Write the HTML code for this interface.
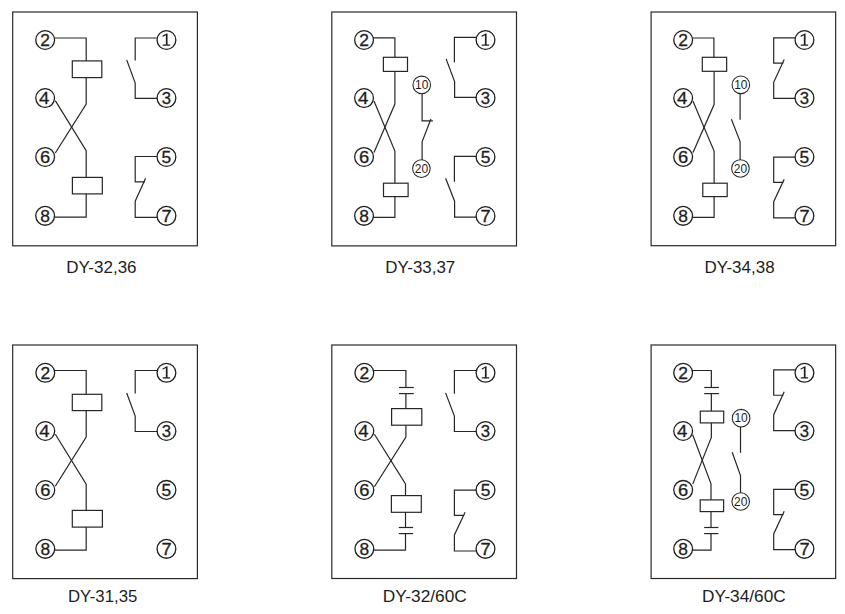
<!DOCTYPE html>
<html><head><meta charset="utf-8"><title>DY relay wiring diagrams</title>
<style>
html,body{margin:0;padding:0;background:#fff;}
body{width:845px;height:614px;overflow:hidden;font-family:"Liberation Sans",sans-serif;}
svg{display:block;}
svg path{fill:none;stroke-linejoin:miter;stroke-linecap:butt;}
svg text{font-family:"Liberation Sans",sans-serif;fill:#1e1e1e;}
svg path.g{fill:#1e1e1e;stroke:none;}
.b{font-size:17.4px;text-anchor:middle;stroke:#1e1e1e;stroke-width:.3px;}
.s{font-size:12.9px;text-anchor:middle;}
.l{font-size:16.6px;}
</style></head>
<body>
<svg width="845" height="614" viewBox="0 0 845 614">
<rect x="0" y="0" width="845" height="614" fill="#fff"/>
<rect x="12.7" y="12" width="184.7" height="233.8" fill="none" stroke="#2a2a2a" stroke-width="1.2"/>
<path d="M54 38L86.2 38L86.2 61" stroke="#262626" stroke-width="1.2"/>
<path d="M86.2 77L86.2 104.1L55.3 153" stroke="#262626" stroke-width="1.2"/>
<path d="M55.3 100.6L86.2 150.7L86.2 178" stroke="#262626" stroke-width="1.2"/>
<path d="M86.2 193L86.2 217.2L54 217.2" stroke="#262626" stroke-width="1.2"/>
<rect x="72.3" y="60.9" width="29.5" height="16.7" fill="#fff" stroke="#262626" stroke-width="1.2"/>
<rect x="72.4" y="177.4" width="29.9" height="16.5" fill="#fff" stroke="#262626" stroke-width="1.2"/>
<circle cx="45.15" cy="40" r="9.4" fill="#fff" stroke="#1e1e1e" stroke-width="1.3"/>
<text transform="translate(45.15 45.85) scale(1.0 1)" class="b">2</text>
<circle cx="45.15" cy="98.05" r="9.4" fill="#fff" stroke="#1e1e1e" stroke-width="1.3"/>
<text transform="translate(44.25 103.9) scale(1.07 1)" class="b">4</text>
<circle cx="45.15" cy="156.95" r="9.4" fill="#fff" stroke="#1e1e1e" stroke-width="1.3"/>
<text transform="translate(45.15 162.8) scale(1.05 1)" class="b">6</text>
<circle cx="45.15" cy="215.85" r="9.4" fill="#fff" stroke="#1e1e1e" stroke-width="1.3"/>
<text transform="translate(45.15 221.7) scale(1.0 1)" class="b">8</text>
<path d="M158 38L135.2 38L135.2 60.5" stroke="#262626" stroke-width="1.2"/>
<path d="M126.7 59.9L135.2 83L135.2 98.4L158 98.4" stroke="#262626" stroke-width="1.2"/>
<path d="M158 156.5L135.2 156.5L135.2 181.9L144.9 181.9" stroke="#262626" stroke-width="1.2"/>
<path d="M145.6 178.2L135.2 201.2L135.2 217.3L158 217.3" stroke="#262626" stroke-width="1.2"/>
<circle cx="166.45" cy="40" r="9.4" fill="#fff" stroke="#1e1e1e" stroke-width="1.3"/>
<path d="M162.65 35.6L166.75 33.5L167.55 33.5L167.55 44.4L170.15 44.4L170.15 45.8L162.75 45.8L162.75 44.4L165.85 44.4L165.85 35.3L162.65 36.9Z" class="g"/>
<circle cx="166.45" cy="98.05" r="9.4" fill="#fff" stroke="#1e1e1e" stroke-width="1.3"/>
<text transform="translate(166.45 103.9) scale(0.96 1)" class="b">3</text>
<circle cx="166.45" cy="156.95" r="9.4" fill="#fff" stroke="#1e1e1e" stroke-width="1.3"/>
<text transform="translate(166.45 162.8) scale(1.0 1)" class="b">5</text>
<circle cx="166.45" cy="215.85" r="9.4" fill="#fff" stroke="#1e1e1e" stroke-width="1.3"/>
<text transform="translate(166.45 221.7) scale(1.05 1)" class="b">7</text>
<text x="66.3" y="272.8" class="l" textLength="70.3" lengthAdjust="spacingAndGlyphs">DY-32,36</text>
<rect x="331.8" y="12" width="184.7" height="233.9" fill="none" stroke="#2a2a2a" stroke-width="1.2"/>
<path d="M373 37.8L394.9 37.8L394.9 58" stroke="#262626" stroke-width="1.2"/>
<path d="M394.9 71L394.9 104.1L374 152.4" stroke="#262626" stroke-width="1.2"/>
<path d="M374 101L394.9 151.1L394.9 184" stroke="#262626" stroke-width="1.2"/>
<path d="M394.9 196L394.9 217.3L373 217.3" stroke="#262626" stroke-width="1.2"/>
<rect x="383.4" y="57.3" width="24.1" height="14.1" fill="#fff" stroke="#262626" stroke-width="1.2"/>
<rect x="383.5" y="183.2" width="24.6" height="13.4" fill="#fff" stroke="#262626" stroke-width="1.2"/>
<circle cx="364.05" cy="40" r="9.4" fill="#fff" stroke="#1e1e1e" stroke-width="1.3"/>
<text transform="translate(364.05 45.85) scale(1.0 1)" class="b">2</text>
<circle cx="364.05" cy="98.05" r="9.4" fill="#fff" stroke="#1e1e1e" stroke-width="1.3"/>
<text transform="translate(363.15 103.9) scale(1.07 1)" class="b">4</text>
<circle cx="364.05" cy="156.95" r="9.4" fill="#fff" stroke="#1e1e1e" stroke-width="1.3"/>
<text transform="translate(364.05 162.8) scale(1.05 1)" class="b">6</text>
<circle cx="364.05" cy="215.85" r="9.4" fill="#fff" stroke="#1e1e1e" stroke-width="1.3"/>
<text transform="translate(364.05 221.7) scale(1.0 1)" class="b">8</text>
<path d="M422.1 93L422.1 120.8L432.9 120.8" stroke="#262626" stroke-width="1.2"/>
<path d="M430.9 119L422.1 141.9L422.1 160" stroke="#262626" stroke-width="1.2"/>
<circle cx="421.75" cy="84.9" r="8.8" fill="#fff" stroke="#262626" stroke-width="1.05"/>
<text transform="translate(421.75 89.1) scale(0.93 1)" class="s">10</text>
<circle cx="421.4" cy="168.6" r="8.8" fill="#fff" stroke="#262626" stroke-width="1.05"/>
<text transform="translate(421.4 172.8) scale(0.93 1)" class="s">20</text>
<path d="M477 37.4L454.4 37.4L454.4 62.3" stroke="#262626" stroke-width="1.2"/>
<path d="M446.1 58.9L454.6 81.5L454.6 97.3L477 97.3" stroke="#262626" stroke-width="1.2"/>
<path d="M477 156.4L454.4 156.4L454.4 181.7" stroke="#262626" stroke-width="1.2"/>
<path d="M445.6 178.2L454.6 201.2L454.6 217.1L477 217.1" stroke="#262626" stroke-width="1.2"/>
<circle cx="485.5" cy="40" r="9.4" fill="#fff" stroke="#1e1e1e" stroke-width="1.3"/>
<path d="M481.7 35.6L485.8 33.5L486.6 33.5L486.6 44.4L489.2 44.4L489.2 45.8L481.8 45.8L481.8 44.4L484.9 44.4L484.9 35.3L481.7 36.9Z" class="g"/>
<circle cx="485.5" cy="97.95" r="9.4" fill="#fff" stroke="#1e1e1e" stroke-width="1.3"/>
<text transform="translate(485.5 103.8) scale(0.96 1)" class="b">3</text>
<circle cx="485.5" cy="157" r="9.4" fill="#fff" stroke="#1e1e1e" stroke-width="1.3"/>
<text transform="translate(485.5 162.85) scale(1.0 1)" class="b">5</text>
<circle cx="485.5" cy="216" r="9.4" fill="#fff" stroke="#1e1e1e" stroke-width="1.3"/>
<text transform="translate(485.5 221.85) scale(1.05 1)" class="b">7</text>
<text x="385.3" y="272.8" class="l" textLength="70" lengthAdjust="spacingAndGlyphs">DY-33,37</text>
<rect x="651.1" y="12" width="184.55" height="233.7" fill="none" stroke="#2a2a2a" stroke-width="1.2"/>
<path d="M692 38L713.9 38L713.9 58" stroke="#262626" stroke-width="1.2"/>
<path d="M714.1 71L714.1 104.5L693 152.6" stroke="#262626" stroke-width="1.2"/>
<path d="M693 101.2L714.1 151L714.1 184" stroke="#262626" stroke-width="1.2"/>
<path d="M714.1 196L714.1 217.3L692 217.3" stroke="#262626" stroke-width="1.2"/>
<rect x="702.3" y="57.3" width="24.35" height="14" fill="#fff" stroke="#262626" stroke-width="1.2"/>
<rect x="702.8" y="183.2" width="24.4" height="13.4" fill="#fff" stroke="#262626" stroke-width="1.2"/>
<circle cx="683.15" cy="40" r="9.4" fill="#fff" stroke="#1e1e1e" stroke-width="1.3"/>
<text transform="translate(683.15 45.85) scale(1.0 1)" class="b">2</text>
<circle cx="683.15" cy="98.05" r="9.4" fill="#fff" stroke="#1e1e1e" stroke-width="1.3"/>
<text transform="translate(682.25 103.9) scale(1.07 1)" class="b">4</text>
<circle cx="683.15" cy="156.9" r="9.4" fill="#fff" stroke="#1e1e1e" stroke-width="1.3"/>
<text transform="translate(683.15 162.75) scale(1.05 1)" class="b">6</text>
<circle cx="683.15" cy="215.85" r="9.4" fill="#fff" stroke="#1e1e1e" stroke-width="1.3"/>
<text transform="translate(683.15 221.7) scale(1.0 1)" class="b">8</text>
<path d="M740.1 93L740.1 119.7" stroke="#262626" stroke-width="1.2"/>
<path d="M731.4 119.3L740.1 141.6L740.1 160" stroke="#262626" stroke-width="1.2"/>
<circle cx="740.85" cy="84.85" r="8.8" fill="#fff" stroke="#262626" stroke-width="1.05"/>
<text transform="translate(740.85 89.05) scale(0.93 1)" class="s">10</text>
<circle cx="740.45" cy="168.45" r="8.8" fill="#fff" stroke="#262626" stroke-width="1.05"/>
<text transform="translate(740.45 172.65) scale(0.93 1)" class="s">20</text>
<path d="M796 37.8L773.7 37.8L773.7 63.1L783.4 63.1" stroke="#262626" stroke-width="1.2"/>
<path d="M784.2 59.45L773.7 82.3L773.7 98.4L796 98.4" stroke="#262626" stroke-width="1.2"/>
<path d="M796 157.1L773.7 157.1L773.7 182.3L783.4 182.3" stroke="#262626" stroke-width="1.2"/>
<path d="M784.2 179.2L773.7 201.75L773.7 217.8L796 217.8" stroke="#262626" stroke-width="1.2"/>
<circle cx="804.45" cy="40" r="9.4" fill="#fff" stroke="#1e1e1e" stroke-width="1.3"/>
<path d="M800.65 35.6L804.75 33.5L805.55 33.5L805.55 44.4L808.15 44.4L808.15 45.8L800.75 45.8L800.75 44.4L803.85 44.4L803.85 35.3L800.65 36.9Z" class="g"/>
<circle cx="804.45" cy="97.95" r="9.4" fill="#fff" stroke="#1e1e1e" stroke-width="1.3"/>
<text transform="translate(804.45 103.8) scale(0.96 1)" class="b">3</text>
<circle cx="804.45" cy="157" r="9.4" fill="#fff" stroke="#1e1e1e" stroke-width="1.3"/>
<text transform="translate(804.45 162.85) scale(1.0 1)" class="b">5</text>
<circle cx="804.45" cy="215.8" r="9.4" fill="#fff" stroke="#1e1e1e" stroke-width="1.3"/>
<text transform="translate(804.45 221.65) scale(1.05 1)" class="b">7</text>
<text x="704.4" y="272.8" class="l" textLength="70.3" lengthAdjust="spacingAndGlyphs">DY-34,38</text>
<rect x="12.7" y="345" width="184.7" height="233.6" fill="none" stroke="#2a2a2a" stroke-width="1.2"/>
<path d="M54 370.5L86.2 370.5L86.2 395" stroke="#262626" stroke-width="1.2"/>
<path d="M86.2 410L86.2 437.1L55.3 486.2" stroke="#262626" stroke-width="1.2"/>
<path d="M55.3 434.3L86.2 484.1L86.2 511" stroke="#262626" stroke-width="1.2"/>
<path d="M86.2 526L86.2 550.2L54 550.2" stroke="#262626" stroke-width="1.2"/>
<rect x="72.3" y="394.3" width="29.5" height="16.3" fill="#fff" stroke="#262626" stroke-width="1.2"/>
<rect x="72.3" y="510.4" width="30.1" height="16.7" fill="#fff" stroke="#262626" stroke-width="1.2"/>
<circle cx="45.3" cy="372.8" r="9.4" fill="#fff" stroke="#1e1e1e" stroke-width="1.3"/>
<text transform="translate(45.3 378.65) scale(1.0 1)" class="b">2</text>
<circle cx="45.3" cy="431" r="9.4" fill="#fff" stroke="#1e1e1e" stroke-width="1.3"/>
<text transform="translate(44.4 436.85) scale(1.07 1)" class="b">4</text>
<circle cx="45.3" cy="490" r="9.4" fill="#fff" stroke="#1e1e1e" stroke-width="1.3"/>
<text transform="translate(45.3 495.85) scale(1.05 1)" class="b">6</text>
<circle cx="45.3" cy="548.85" r="9.4" fill="#fff" stroke="#1e1e1e" stroke-width="1.3"/>
<text transform="translate(45.3 554.7) scale(1.0 1)" class="b">8</text>
<path d="M158 370.5L135.2 370.5L135.2 393.5" stroke="#262626" stroke-width="1.2"/>
<path d="M126.7 393L135.2 416L135.2 431.5L158 431.5" stroke="#262626" stroke-width="1.2"/>
<circle cx="166.45" cy="372.8" r="9.4" fill="#fff" stroke="#1e1e1e" stroke-width="1.3"/>
<path d="M162.65 368.4L166.75 366.3L167.55 366.3L167.55 377.2L170.15 377.2L170.15 378.6L162.75 378.6L162.75 377.2L165.85 377.2L165.85 368.1L162.65 369.7Z" class="g"/>
<circle cx="166.45" cy="431" r="9.4" fill="#fff" stroke="#1e1e1e" stroke-width="1.3"/>
<text transform="translate(166.45 436.85) scale(0.96 1)" class="b">3</text>
<circle cx="166.45" cy="489.9" r="9.4" fill="#fff" stroke="#1e1e1e" stroke-width="1.3"/>
<text transform="translate(166.45 495.75) scale(1.0 1)" class="b">5</text>
<circle cx="166.45" cy="548.85" r="9.4" fill="#fff" stroke="#1e1e1e" stroke-width="1.3"/>
<text transform="translate(166.45 554.7) scale(1.05 1)" class="b">7</text>
<text x="68" y="601.5" class="l" textLength="69.3" lengthAdjust="spacingAndGlyphs">DY-31,35</text>
<rect x="331.8" y="345" width="184.7" height="233.5" fill="none" stroke="#2a2a2a" stroke-width="1.2"/>
<path d="M373 370.5L405.9 370.5L405.9 409" stroke="#262626" stroke-width="1.2"/>
<path d="M405.9 425L405.9 437.1L374.4 486.8" stroke="#262626" stroke-width="1.2"/>
<path d="M374.4 434.3L405.5 483.9L405.5 496" stroke="#262626" stroke-width="1.2"/>
<path d="M405.5 512L405.5 550.2L373 550.2" stroke="#262626" stroke-width="1.2"/>
<rect x="403.9" y="387.5" width="4" height="6.1" fill="#fff"/>
<path d="M399 387.5L413.75 387.5" stroke="#262626" stroke-width="1.2"/>
<path d="M399 393.6L413.75 393.6" stroke="#262626" stroke-width="1.2"/>
<rect x="403.5" y="527.5" width="4" height="6.1" fill="#fff"/>
<path d="M398.8 527.5L413.1 527.5" stroke="#262626" stroke-width="1.2"/>
<path d="M398.8 533.6L413.1 533.6" stroke="#262626" stroke-width="1.2"/>
<rect x="391.6" y="408.6" width="30.2" height="16.6" fill="#fff" stroke="#262626" stroke-width="1.2"/>
<rect x="391.4" y="495.6" width="29.9" height="16.7" fill="#fff" stroke="#262626" stroke-width="1.2"/>
<circle cx="364.35" cy="372.8" r="9.4" fill="#fff" stroke="#1e1e1e" stroke-width="1.3"/>
<text transform="translate(364.35 378.65) scale(1.0 1)" class="b">2</text>
<circle cx="364.35" cy="431" r="9.4" fill="#fff" stroke="#1e1e1e" stroke-width="1.3"/>
<text transform="translate(363.45 436.85) scale(1.07 1)" class="b">4</text>
<circle cx="364.35" cy="489.95" r="9.4" fill="#fff" stroke="#1e1e1e" stroke-width="1.3"/>
<text transform="translate(364.35 495.8) scale(1.05 1)" class="b">6</text>
<circle cx="364.35" cy="548.85" r="9.4" fill="#fff" stroke="#1e1e1e" stroke-width="1.3"/>
<text transform="translate(364.35 554.7) scale(1.0 1)" class="b">8</text>
<path d="M477 370.5L454.4 370.5L454.4 393.85" stroke="#262626" stroke-width="1.2"/>
<path d="M445.6 392.9L454.4 416L454.4 431.5L477 431.5" stroke="#262626" stroke-width="1.2"/>
<path d="M477 490.1L454.4 490.1L454.4 515.3L464.3 515.3" stroke="#262626" stroke-width="1.2"/>
<path d="M465.1 512.3L454.4 535L454.4 551L477 551" stroke="#262626" stroke-width="1.2"/>
<circle cx="485.5" cy="372.8" r="9.4" fill="#fff" stroke="#1e1e1e" stroke-width="1.3"/>
<path d="M481.7 368.4L485.8 366.3L486.6 366.3L486.6 377.2L489.2 377.2L489.2 378.6L481.8 378.6L481.8 377.2L484.9 377.2L484.9 368.1L481.7 369.7Z" class="g"/>
<circle cx="485.5" cy="431" r="9.4" fill="#fff" stroke="#1e1e1e" stroke-width="1.3"/>
<text transform="translate(485.5 436.85) scale(0.96 1)" class="b">3</text>
<circle cx="485.5" cy="489.95" r="9.4" fill="#fff" stroke="#1e1e1e" stroke-width="1.3"/>
<text transform="translate(485.5 495.8) scale(1.0 1)" class="b">5</text>
<circle cx="485.5" cy="548.85" r="9.4" fill="#fff" stroke="#1e1e1e" stroke-width="1.3"/>
<text transform="translate(485.5 554.7) scale(1.05 1)" class="b">7</text>
<text x="382.8" y="601.5" class="l" textLength="84" lengthAdjust="spacingAndGlyphs">DY-32/60C</text>
<rect x="651.1" y="345" width="184.55" height="233.5" fill="none" stroke="#2a2a2a" stroke-width="1.2"/>
<path d="M692 370.5L711.35 370.5L711.35 412" stroke="#262626" stroke-width="1.2"/>
<path d="M711.35 422L711.35 437.5L692.7 484.1" stroke="#262626" stroke-width="1.2"/>
<path d="M692.7 434.7L711 483.8L711 500.5" stroke="#262626" stroke-width="1.2"/>
<path d="M711 511L711 550.2L692 550.2" stroke="#262626" stroke-width="1.2"/>
<rect x="709.35" y="387.5" width="4" height="6.1" fill="#fff"/>
<path d="M704.2 387.5L718.9 387.5" stroke="#262626" stroke-width="1.2"/>
<path d="M704.2 393.6L718.9 393.6" stroke="#262626" stroke-width="1.2"/>
<rect x="709" y="527.5" width="4" height="6.1" fill="#fff"/>
<path d="M704.1 527.5L718.4 527.5" stroke="#262626" stroke-width="1.2"/>
<path d="M704.1 533.6L718.4 533.6" stroke="#262626" stroke-width="1.2"/>
<rect x="700.3" y="411.1" width="23.4" height="11.8" fill="#fff" stroke="#262626" stroke-width="1.2"/>
<rect x="700.2" y="499.9" width="23.4" height="11.7" fill="#fff" stroke="#262626" stroke-width="1.2"/>
<circle cx="683.15" cy="372.8" r="9.4" fill="#fff" stroke="#1e1e1e" stroke-width="1.3"/>
<text transform="translate(683.15 378.65) scale(1.0 1)" class="b">2</text>
<circle cx="683.15" cy="431" r="9.4" fill="#fff" stroke="#1e1e1e" stroke-width="1.3"/>
<text transform="translate(682.25 436.85) scale(1.07 1)" class="b">4</text>
<circle cx="683.15" cy="489.9" r="9.4" fill="#fff" stroke="#1e1e1e" stroke-width="1.3"/>
<text transform="translate(683.15 495.75) scale(1.05 1)" class="b">6</text>
<circle cx="683.15" cy="548.85" r="9.4" fill="#fff" stroke="#1e1e1e" stroke-width="1.3"/>
<text transform="translate(683.15 554.7) scale(1.0 1)" class="b">8</text>
<path d="M740.5 426L740.5 452.8" stroke="#262626" stroke-width="1.2"/>
<path d="M732.2 452.2L740.5 475.6L740.5 493" stroke="#262626" stroke-width="1.2"/>
<circle cx="741.1" cy="418.15" r="8.8" fill="#fff" stroke="#262626" stroke-width="1.05"/>
<text transform="translate(741.1 422.35) scale(0.93 1)" class="s">10</text>
<circle cx="740.7" cy="501.5" r="8.8" fill="#fff" stroke="#262626" stroke-width="1.05"/>
<text transform="translate(740.7 505.7) scale(0.93 1)" class="s">20</text>
<path d="M796 369.9L773.7 369.9L773.7 395.25L783.4 395.25" stroke="#262626" stroke-width="1.2"/>
<path d="M784.2 391.85L773.7 414.7L773.7 430.6L796 430.6" stroke="#262626" stroke-width="1.2"/>
<path d="M796 489.35L773.7 489.35L773.7 514.65L783.4 514.65" stroke="#262626" stroke-width="1.2"/>
<path d="M784.2 511.2L773.7 533.9L773.7 549.7L796 549.7" stroke="#262626" stroke-width="1.2"/>
<circle cx="804.45" cy="372.8" r="9.4" fill="#fff" stroke="#1e1e1e" stroke-width="1.3"/>
<path d="M800.65 368.4L804.75 366.3L805.55 366.3L805.55 377.2L808.15 377.2L808.15 378.6L800.75 378.6L800.75 377.2L803.85 377.2L803.85 368.1L800.65 369.7Z" class="g"/>
<circle cx="804.45" cy="431" r="9.4" fill="#fff" stroke="#1e1e1e" stroke-width="1.3"/>
<text transform="translate(804.45 436.85) scale(0.96 1)" class="b">3</text>
<circle cx="804.45" cy="489.95" r="9.4" fill="#fff" stroke="#1e1e1e" stroke-width="1.3"/>
<text transform="translate(804.45 495.8) scale(1.0 1)" class="b">5</text>
<circle cx="804.45" cy="548.85" r="9.4" fill="#fff" stroke="#1e1e1e" stroke-width="1.3"/>
<text transform="translate(804.45 554.7) scale(1.05 1)" class="b">7</text>
<text x="702" y="601.5" class="l" textLength="83.75" lengthAdjust="spacingAndGlyphs">DY-34/60C</text>
</svg>
</body></html>
